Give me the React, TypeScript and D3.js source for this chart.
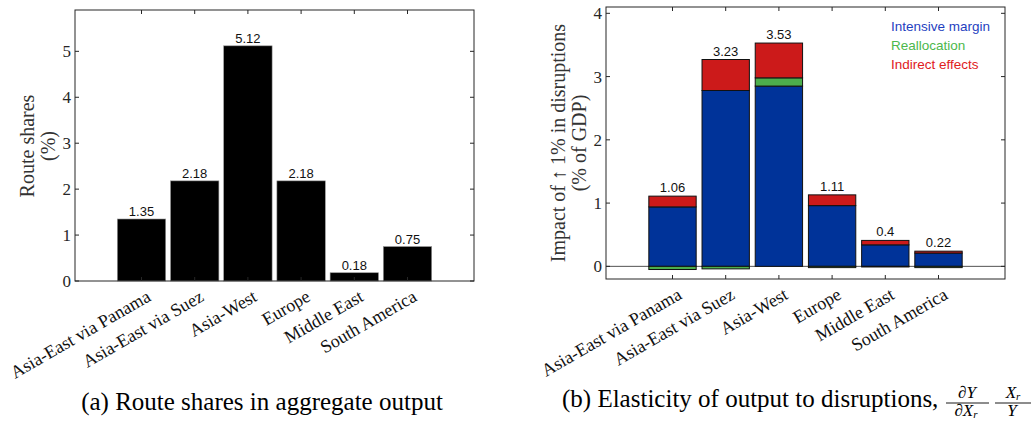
import React from "react";
import * as d3 from "d3";

const routes = [
  "Asia-East via Panama",
  "Asia-East via Suez",
  "Asia-West",
  "Europe",
  "Middle East",
  "South America",
];
const routeShares = [1.35, 2.18, 5.12, 2.18, 0.18, 0.75];
const intensiveMargin = [0.94, 2.78, 2.85, 0.96, 0.34, 0.21];
const reallocation = [-0.05, -0.04, 0.13, -0.02, -0.01, -0.02];
const indirectEffects = [0.17, 0.49, 0.55, 0.17, 0.07, 0.03];
const totalLabels = ["1.06", "3.23", "3.53", "1.11", "0.4", "0.22"];
const shareTicks = [0, 1, 2, 3, 4, 5];
const impactTicks = [0, 1, 2, 3, 4];
const seriesNames = ["Intensive margin", "Reallocation", "Indirect effects"];
const seriesFill = ["#003399", "#4cae4c", "#cc1a1a"];
const legendColor = ["#1f3fbf", "#4cb84c", "#e0201c"];

const serif = "'Liberation Serif', 'Times New Roman', serif";
const sans = "'Liberation Sans', Arial, sans-serif";
const axisColor = "#262626";

const Frame = ({ x, y, tickVals, tickX }) => {
  const [x0, x1] = x.range();
  const [y1, y0] = y.range();
  const t = 4;
  return (
    <g>
      <rect x={x0} y={y0} width={x1 - x0} height={y1 - y0} fill="none" stroke={axisColor} strokeWidth={1} />
      {tickVals.map((v) => (
        <g key={"y" + v}>
          <line x1={x0} x2={x0 + t} y1={y(v)} y2={y(v)} stroke={axisColor} />
          <line x1={x1} x2={x1 - t} y1={y(v)} y2={y(v)} stroke={axisColor} />
          <text x={x0 - 4} y={y(v)} dy="0.35em" textAnchor="end" fontFamily={serif} fontSize={17} fill={axisColor}>
            {v}
          </text>
        </g>
      ))}
      {tickX.map((v) => (
        <g key={"x" + v}>
          <line x1={x(v)} x2={x(v)} y1={y1} y2={y1 - t} stroke={axisColor} />
          <line x1={x(v)} x2={x(v)} y1={y0} y2={y0 + t} stroke={axisColor} />
        </g>
      ))}
      {routes.map((r, i) => (
        <text
          key={r}
          transform={`translate(${x(i + 1) + 4},${y1 + 8}) rotate(-30)`}
          textAnchor="end"
          dy="0.7em"
          fontFamily={serif}
          fontSize={18}
          fill="#111"
        >
          {r}
        </text>
      ))}
    </g>
  );
};

const App = () => {
  const idx = routes.map((_, i) => i + 1);

  // left panel
  const xa = d3.scaleLinear().domain([-0.25, 7.25]).range([75, 474]);
  const ya = d3.scaleLinear().domain([0, 5.9]).range([281, 10]);
  const bwA = (xa(1) - xa(0)) * 0.91;

  // right panel
  const xb = d3.scaleLinear().domain([-0.25, 7.25]).range([606, 1005]);
  const yb = d3.scaleLinear().domain([-0.2, 4.1]).range([279, 7]);
  const bwB = (xb(1) - xb(0)) * 0.89;

  const rows = routes.map((r, i) => ({
    route: r,
    [seriesNames[0]]: intensiveMargin[i],
    [seriesNames[1]]: reallocation[i],
    [seriesNames[2]]: indirectEffects[i],
  }));
  const stacked = d3.stack().keys(seriesNames).offset(d3.stackOffsetDiverging)(rows);
  const topOf = routes.map((_, i) => d3.max(stacked, (s) => s[i][1]));

  return (
    <svg width={1031} height={424} style={{ position: "absolute", left: 0, top: 0, background: "#fff" }}>
      {/* (a) */}
      {routeShares.map((v, i) => (
        <g key={"a" + i}>
          <rect
            x={xa(i + 1) - bwA / 2}
            y={ya(v)}
            width={bwA}
            height={ya(0) - ya(v)}
            fill="#000"
            stroke="#999"
            strokeWidth={0.6}
          />
          <text x={xa(i + 1)} y={ya(v) - 3} textAnchor="middle" fontFamily={sans} fontSize={13} fill="#111">
            {v.toFixed(2)}
          </text>
        </g>
      ))}
      <Frame x={xa} y={ya} tickVals={shareTicks} tickX={idx} />
      <text transform="translate(34,146) rotate(-90)" textAnchor="middle" fontFamily={serif} fontSize={20} fill="#333">
        Route shares
      </text>
      <text transform="translate(55,146) rotate(-90)" textAnchor="middle" fontFamily={serif} fontSize={20} fill="#333">
        (%)
      </text>
      <text x={262} y={410} textAnchor="middle" fontFamily={serif} fontSize={25} fill="#000">
        (a) Route shares in aggregate output
      </text>

      {/* (b) */}
      <line x1={xb.range()[0]} x2={xb.range()[1]} y1={yb(0)} y2={yb(0)} stroke={axisColor} strokeWidth={0.8} />
      {stacked.map((s, k) =>
        s.map((d, i) => (
          <rect
            key={k + "-" + i}
            x={xb(i + 1) - bwB / 2}
            y={yb(Math.max(d[0], d[1]))}
            width={bwB}
            height={Math.abs(yb(d[0]) - yb(d[1]))}
            fill={seriesFill[k]}
            stroke="#111"
            strokeWidth={1}
          />
        ))
      )}
      {totalLabels.map((l, i) => (
        <text key={"t" + i} x={xb(i + 1)} y={yb(topOf[i]) - 4} textAnchor="middle" fontFamily={sans} fontSize={13} fill="#111">
          {l}
        </text>
      ))}
      <Frame x={xb} y={yb} tickVals={impactTicks} tickX={idx} />
      {seriesNames.map((n, k) => (
        <text key={n} x={891} y={31 + k * 19} fontFamily={sans} fontSize={13.5} fill={legendColor[k]}>
          {n}
        </text>
      ))}
      <text transform="translate(565,143) rotate(-90)" textAnchor="middle" fontFamily={serif} fontSize={20} fill="#333">
        Impact of ↑ 1% in disruptions
      </text>
      <text transform="translate(586,143) rotate(-90)" textAnchor="middle" fontFamily={serif} fontSize={20} fill="#333">
        (% of GDP)
      </text>
      <text x={562} y={407} fontFamily={serif} fontSize={25} fill="#000">
        (b) Elasticity of output to disruptions,
      </text>
      <g fontFamily={serif} fontSize={17} fontStyle="italic" fill="#000" textAnchor="middle">
        <text x={967} y={398}>∂Y</text>
        <line x1={946} x2={989} y1={403} y2={403} stroke="#000" strokeWidth={0.9} />
        <text x={966} y={416}>
          ∂X<tspan fontSize={11} dy={2}>r</tspan>
        </text>
        <text x={1013} y={398}>
          X<tspan fontSize={11} dy={2}>r</tspan>
        </text>
        <line x1={995} x2={1031} y1={403} y2={403} stroke="#000" strokeWidth={0.9} />
        <text x={1012} y={416}>Y</text>
      </g>
    </svg>
  );
};

export default App;
